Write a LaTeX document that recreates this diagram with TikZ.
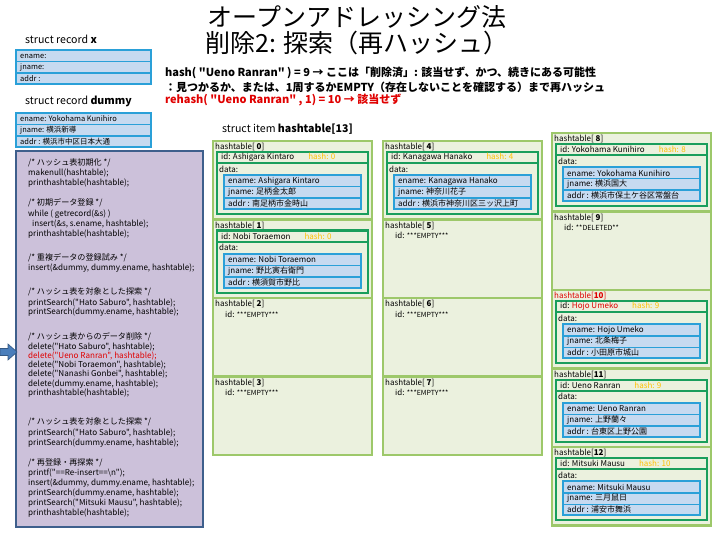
\documentclass[tikz,border=0pt]{standalone}
\usepackage{fontspec}
\setmainfont{Noto Sans CJK JP}[Ligatures=TeXOff]
\definecolor{ogreen}{HTML}{9DC86A}
\definecolor{lgreen}{HTML}{EBF1DE}
\definecolor{dgreen}{HTML}{1A9E5C}
\definecolor{bluec}{HTML}{2AA0D8}
\definecolor{lblue}{HTML}{C6DAF0}
\definecolor{lav}{HTML}{CCC1DA}
\definecolor{lavb}{HTML}{3E5F8C}
\definecolor{hashc}{HTML}{FFC000}
\definecolor{redc}{HTML}{E00000}
\definecolor{arrowc}{HTML}{4A7EBB}
\newcommand\fs[2]{\fontsize{#1}{#2}\selectfont}
\tikzset{
  entrybox/.style={draw=ogreen, line width=2.4pt, fill=lgreen},
  gbox/.style={draw=dgreen, line width=2pt, fill=lgreen},
  tx/.style={anchor=west, inner sep=0pt, font=\fs{8}{9}},
  rtx/.style={anchor=west, inner sep=0pt, font=\fs{7.5}{8}},
  code/.style={anchor=west, inner sep=0pt, font=\fs{8.1}{9}},
  hashline/.style={anchor=west, inner sep=0pt, font=\fs{11}{12}\bfseries},
  titletext/.style={inner sep=0pt, font=\fs{25}{26}},
  headtext/.style={anchor=west, inner sep=0pt, font=\fs{10.6}{11}},
}
\newcommand\recrows[8]{%
  \begin{scope}[shift={(#2,#3)}]
    \fill[bluec] (0,0) rectangle (#4,36);
    \fill[lblue] (2,2) rectangle ({#4-2},12);
    \fill[lblue] (2,13.5) rectangle ({#4-2},23.5);
    \fill[lblue] (2,25) rectangle ({#4-2},34);
    \node[#8] (#1e) at (5,7) {ename: #5};
    \node[#8] (#1j) at (5,18.5) {jname: #6};
    \node[#8] (#1a) at (5,29.5) {addr : #7};
  \end{scope}}
\newcommand\fullentry[9]{%
  \begin{scope}[shift={(#2,#3)}]
    \draw[entrybox] (0,0) rectangle (159,78.5);
    \node[tx] (#1l) at (2,6) {#4};
    \draw[gbox] (4,11) rectangle (155,22);
    \draw[gbox] (4,22) rectangle (155,73);
    \node[tx] (#1i) at (8,16.5) {id: #5\hspace{14pt}\textcolor{hashc}{hash: #6}};
    \node[tx] (#1d) at (6,28) {data:};
    \recrows{#1}{10}{33}{139}{#7}{#8}{#9}{tx}
  \end{scope}}
\newcommand\emptyentry[5]{%
  \begin{scope}[shift={(#2,#3)}]
    \draw[entrybox] (0,0) rectangle (159,78.5);
    \node[tx] (#1l) at (2,6) {#4};
    \node[tx] (#1i) at (12,16) {id: {\fs{7}{8}#5}};
  \end{scope}}
\begin{document}
\begin{tikzpicture}[x=1pt, y=-1pt]
\useasboundingbox (0,0) rectangle (720,540);
\fill[white] (0,0) rectangle (720,540);
% title
\node[titletext] (t1) at (357,17) {オープンアドレッシング法};
\node[titletext] (t2) at (357,43) {削除2: 探索（再ハッシュ）};
\node[hashline] (h1) at (165,73) {hash( "Ueno Ranran" ) = 9 → ここは「削除済」: 該当せず、かつ、続きにある可能性};
\node[hashline] (h2) at (165,87) {：見つかるか、または、1周するかEMPTY（存在しないことを確認する）まで再ハッシュ};
\node[hashline, text=redc] (h3) at (165,100) {rehash( "Ueno Ranran" , 1) = 10 → 該当せず};
% records
\node[headtext] (sx) at (25,39) {struct record \textbf{x}};
\recrows{rx}{15}{49}{137}{}{}{}{rtx}
\node[headtext] (sd) at (25,101) {struct record \textbf{dummy}};
\recrows{rd}{15}{112}{137}{Yokohama Kunihiro}{横浜新導}{横浜市中区日本大通}{rtx}
% code panel
\draw[fill=lav, draw=lavb, line width=1.8pt] (16,151) rectangle (203,527);
\node[code] (c1) at (28,163) {/* ハッシュ表初期化 */};
\node[code] (c2) at (28,173) {makenull(hashtable);};
\node[code] (c3) at (28,183) {printhashtable(hashtable);};
\node[code] (c4) at (28,203) {/* 初期データ登録 */};
\node[code] (c5) at (28,214) {while ( getrecord(\&s) )};
\node[code] (c6) at (32,224) {insert(\&s, s.ename, hashtable);};
\node[code] (c7) at (28,234) {printhashtable(hashtable);};
\node[code] (c8) at (28,258) {/* 重複データの登録試み */};
\node[code] (c9) at (28,268) {insert(\&dummy, dummy.ename, hashtable);};
\node[code] (c10) at (28,292) {/* ハッシュ表を対象とした探索 */};
\node[code] (c11) at (28,303) {printSearch("Hato Saburo", hashtable);};
\node[code] (c12) at (28,312) {printSearch(dummy.ename, hashtable);};
\node[code] (c13) at (28,337) {/* ハッシュ表からのデータ削除 */};
\node[code] (c14) at (28,347) {delete("Hato Saburo", hashtable);};
\node[code, text=redc] (c15) at (28,356) {delete("Ueno Ranran", hashtable);};
\node[code] (c16) at (28,365) {delete("Nobi Toraemon", hashtable);};
\node[code] (c17) at (28,374) {delete("Nanashi Gonbei", hashtable);};
\node[code] (c18) at (28,384) {delete(dummy.ename, hashtable);};
\node[code] (c19) at (28,393) {printhashtable(hashtable);};
\node[code] (c20) at (28,422) {/* ハッシュ表を対象とした探索 */};
\node[code] (c21) at (28,433) {printSearch("Hato Saburo", hashtable);};
\node[code] (c22) at (28,443) {printSearch(dummy.ename, hashtable);};
\node[code] (c23) at (28,463) {/* 再登録・再探索 */};
\node[code] (c24) at (28,473) {printf("==Re-insert==\textbackslash n");};
\node[code] (c25) at (28,483) {insert(\&dummy, dummy.ename, hashtable);};
\node[code] (c26) at (28,493) {printSearch(dummy.ename, hashtable);};
\node[code] (c27) at (28,503) {printSearch("Mitsuki Mausu", hashtable);};
\node[code] (c28) at (28,513) {printhashtable(hashtable);};
% pointer arrow
\filldraw[fill=arrowc, draw=arrowc!70!black, line width=0.6pt]
  (0,348.5) -- (8,348.5) -- (8,344) -- (17,352) -- (8,360) -- (8,355.5) -- (0,355.5) -- cycle;
% hashtable
\node[headtext] (hh) at (222,129) {struct item \textbf{hashtable[13]}};
\fullentry{e0}{213}{141}{hashtable[ \textbf{0}]}{Ashigara Kintaro}{0}{Ashigara Kintaro}{足柄金太郎}{南足柄市金時山}
\fullentry{e1}{213}{219.5}{hashtable[ \textbf{1}]}{Nobi Toraemon}{0}{Nobi Toraemon}{野比寅右衛門}{横須賀市野比}
\emptyentry{e2}{213}{298}{hashtable[ \textbf{2}]}{***EMPTY***}
\emptyentry{e3}{213}{376.5}{hashtable[ \textbf{3}]}{***EMPTY***}
\fullentry{e4}{383}{141}{hashtable[ \textbf{4}]}{Kanagawa Hanako}{4}{Kanagawa Hanako}{神奈川花子}{横浜市神奈川区三ッ沢上町}
\emptyentry{e5}{383}{219.5}{hashtable[ \textbf{5}]}{***EMPTY***}
\emptyentry{e6}{383}{298}{hashtable[ \textbf{6}]}{***EMPTY***}
\emptyentry{e7}{383}{376.5}{hashtable[ \textbf{7}]}{***EMPTY***}
\fullentry{e8}{552}{133}{hashtable[ \textbf{8}]}{Yokohama Kunihiro}{8}{Yokohama Kunihiro}{横浜国大}{横浜市保土ケ谷区常盤台}
\emptyentry{e9}{552}{211.5}{hashtable[ \textbf{9}]}{**DELETED**}
\fullentry{e10}{552}{290}{\textcolor{redc}{hashtable[\textbf{10}]}}{\textcolor{redc}{Hojo Umeko}}{9}{Hojo Umeko}{北条梅子}{小田原市城山}
\fullentry{e11}{552}{368.5}{hashtable[\textbf{11}]}{Ueno Ranran}{9}{Ueno Ranran}{上野蘭々}{台東区上野公園}
\fullentry{e12}{552}{447}{hashtable[\textbf{12}]}{Mitsuki Mausu}{10}{Mitsuki Mausu}{三月鼠日}{浦安市舞浜}
\end{tikzpicture}
\end{document}
